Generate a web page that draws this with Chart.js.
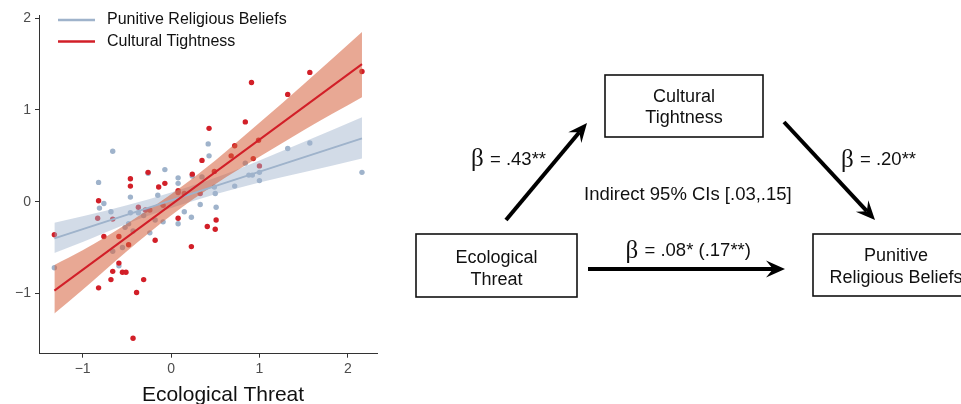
<!DOCTYPE html>
<html>
<head>
<meta charset="utf-8">
<script src="https://cdn.jsdelivr.net/npm/chart.js@4"></script>
<style>
  body { margin: 0; background: #fff; }
  #wrap { position: relative; width: 961px; height: 404px; }
</style>
</head>
<body>
<div id="wrap"><canvas id="fig"></canvas></div>
<script>
// points (Ecological Threat on x)
const tightX = [-1.32, -0.82, -0.83, -0.82, -0.76, -0.66, -0.66, -0.68, -0.59, -0.59, -0.55, -0.51, -0.48, -0.46, -0.46, -0.43, -0.39, -0.37, -0.31, -0.29, -0.24, -0.26, -0.18, -0.14, -0.09, -0.07, 0.08, 0.08, 0.08, 0.15, 0.23, 0.24, 0.33, 0.35, 0.41, 0.43, 0.49, 0.50, 0.51, 0.68, 0.72, 0.84, 0.91, 0.93, 0.99, 1.00, 1.32, 1.57, 2.16];
const tightY = [-0.36, 0.01, -0.18, -0.94, -0.38, -0.19, -0.76, -0.85, -0.38, -0.67, -0.77, -0.77, -0.47, 0.25, 0.17, -1.49, -0.99, -0.06, -0.85, -0.09, -0.09, 0.32, -0.42, 0.16, -0.04, 0.20, 0.12, 0.10, -0.18, 0.09, -0.49, 0.30, 0.09, 0.45, -0.27, 0.80, 0.33, -0.30, -0.20, 0.50, 0.61, 0.87, 1.30, 0.47, 0.67, 0.39, 1.17, 1.41, 1.42];
const punX = [-1.32, -0.82, -0.81, -0.76, -0.68, -0.66, -0.66, -0.59, -0.55, -0.52, -0.48, -0.46, -0.46, -0.43, -0.37, -0.31, -0.26, -0.24, -0.18, -0.15, -0.09, -0.07, 0.08, 0.08, 0.08, 0.15, 0.23, 0.24, 0.33, 0.35, 0.42, 0.43, 0.49, 0.51, 0.50, 0.72, 0.84, 0.88, 0.92, 1.00, 1.00, 1.32, 1.57, 2.16];
const punY = [-0.72, 0.21, -0.07, -0.02, -0.11, 0.55, -0.54, -0.70, -0.50, -0.28, -0.24, 0.05, -0.12, -0.32, -0.12, -0.15, 0.31, -0.34, -0.20, 0.07, -0.22, 0.35, 0.26, 0.20, -0.24, -0.11, -0.17, 0.28, -0.03, 0.27, 0.63, 0.50, 0.16, -0.06, 0.09, 0.17, 0.42, 0.29, 0.29, 0.32, 0.23, 0.58, 0.64, 0.32];

// fitted lines and 95% bands, read at a few x positions
const fitX = [-1.32, 2.16];
const tightFit = [-0.97, 1.50];
const punFit = [-0.40, 0.69];
const bandX = [-1.32, -1, -0.5, 0, 0.5, 1, 1.5, 2.16];
const tightLow = [-1.22, -0.96, -0.54, -0.15, 0.19, 0.49, 0.78, 1.14];
const tightHigh = [-0.69, -0.53, -0.24, 0.08, 0.45, 0.86, 1.28, 1.85];
const punLow = [-0.56, -0.44, -0.24, -0.07, 0.08, 0.21, 0.32, 0.47];
const punHigh = [-0.23, -0.16, -0.04, 0.10, 0.26, 0.45, 0.65, 0.92];

const xTicks = [-1, 0, 1, 2];
const yTicks = [-1, 0, 1, 2];

const RED = '#d21f28';
const BLUE = '#9fb3cb';

const pts = (xs, ys) => xs.map((x, i) => ({ x: x, y: ys[i] }));
const minus = v => (v < 0 ? '\u2212' + Math.abs(v) : String(v));

// legend, axis title and the mediation diagram on the right
const extras = {
    id: 'extras',
    afterDraw(chart) {
        const ctx = chart.ctx;
        ctx.save();

        // legend
        ctx.lineWidth = 2.5;
        ctx.strokeStyle = BLUE;
        ctx.beginPath(); ctx.moveTo(58, 20); ctx.lineTo(95, 20); ctx.stroke();
        ctx.strokeStyle = RED;
        ctx.beginPath(); ctx.moveTo(58, 41.5); ctx.lineTo(95, 41.5); ctx.stroke();
        ctx.fillStyle = '#111';
        ctx.font = '16px "Liberation Sans", Arial, sans-serif';
        ctx.textBaseline = 'middle';
        ctx.fillText('Punitive Religious Beliefs', 107, 20);
        ctx.fillText('Cultural Tightness', 107, 41.5);

        // x title
        ctx.font = '21px "Liberation Sans", Arial, sans-serif';
        ctx.textAlign = 'center';
        ctx.textBaseline = 'alphabetic';
        ctx.fillText('Ecological Threat', 223, 401);

        // boxes
        ctx.strokeStyle = '#111';
        ctx.lineWidth = 1.6;
        ctx.strokeRect(605, 75, 158, 62);
        ctx.strokeRect(416, 234, 161, 63);
        ctx.strokeRect(813, 234, 170, 62);

        ctx.font = '18px "Liberation Sans", Arial, sans-serif';
        ctx.fillText('Cultural', 684, 101.5);
        ctx.fillText('Tightness', 684, 123);
        ctx.fillText('Ecological', 496.5, 263);
        ctx.fillText('Threat', 496.5, 285);
        ctx.fillText('Punitive', 896, 261);
        ctx.fillText('Religious Beliefs', 896, 283);

        // arrows
        function arrow(x1, y1, x2, y2) {
            const a = Math.atan2(y2 - y1, x2 - x1);
            const c = Math.cos(a), s = Math.sin(a);
            const L = 19, W = 8.5, N = 12;
            ctx.lineWidth = 4;
            ctx.strokeStyle = '#000';
            ctx.beginPath();
            ctx.moveTo(x1, y1);
            ctx.lineTo(x2 - N * c, y2 - N * s);
            ctx.stroke();
            ctx.fillStyle = '#000';
            ctx.beginPath();
            ctx.moveTo(x2, y2);
            ctx.lineTo(x2 - L * c + W * s, y2 - L * s - W * c);
            ctx.lineTo(x2 - N * c, y2 - N * s);
            ctx.lineTo(x2 - L * c - W * s, y2 - L * s + W * c);
            ctx.closePath();
            ctx.fill();
        }
        arrow(506, 220, 587, 123);
        arrow(784, 122, 875, 220);
        arrow(588, 269, 785, 269);

        // path coefficients
        ctx.textAlign = 'left';
        ctx.fillStyle = '#111';
        function beta(x, y, rest) {
            ctx.font = '25px "Liberation Serif", "DejaVu Serif", serif';
            ctx.fillText('\u03B2', x, y);
            ctx.font = '18.5px "Liberation Sans", Arial, sans-serif';
            ctx.fillText(rest, x + 19, y - 1.5);
        }
        beta(471, 166, '= .43**');
        beta(841, 166.5, '= .20**');
        beta(625.5, 257.5, '= .08* (.17**)');

        ctx.font = '18.5px "Liberation Sans", Arial, sans-serif';
        ctx.fillText('Indirect 95% CIs [.03,.15]', 584, 200);

        ctx.restore();
    }
};

new Chart(document.getElementById('fig'), {
    type: 'scatter',
    data: {
        datasets: [
            {
                label: 'Punitive Religious Beliefs points',
                data: pts(punX, punY),
                backgroundColor: BLUE,
                borderWidth: 0,
                pointRadius: 2.7,
                order: 6
            },
            {
                label: 'Cultural Tightness points',
                data: pts(tightX, tightY),
                backgroundColor: RED,
                borderWidth: 0,
                pointRadius: 2.7,
                order: 5
            },
            {
                type: 'line',
                label: 'pun high',
                data: pts(bandX, punHigh),
                borderWidth: 0,
                pointRadius: 0,
                cubicInterpolationMode: 'monotone',
                backgroundColor: 'rgba(160,180,205,0.48)',
                fill: '+1',
                order: 4
            },
            {
                type: 'line',
                label: 'pun low',
                data: pts(bandX, punLow),
                borderWidth: 0,
                pointRadius: 0,
                cubicInterpolationMode: 'monotone',
                fill: false,
                order: 4
            },
            {
                type: 'line',
                label: 'tight high',
                data: pts(bandX, tightHigh),
                borderWidth: 0,
                pointRadius: 0,
                cubicInterpolationMode: 'monotone',
                backgroundColor: 'rgba(214,96,60,0.55)',
                fill: '+1',
                order: 3
            },
            {
                type: 'line',
                label: 'tight low',
                data: pts(bandX, tightLow),
                borderWidth: 0,
                pointRadius: 0,
                cubicInterpolationMode: 'monotone',
                fill: false,
                order: 3
            },
            {
                type: 'line',
                label: 'Punitive Religious Beliefs',
                data: pts(fitX, punFit),
                borderColor: BLUE,
                borderWidth: 2,
                pointRadius: 0,
                fill: false,
                order: 1
            },
            {
                type: 'line',
                label: 'Cultural Tightness',
                data: pts(fitX, tightFit),
                borderColor: RED,
                borderWidth: 2,
                pointRadius: 0,
                fill: false,
                order: 0
            }
        ]
    },
    options: {
        responsive: true,
        maintainAspectRatio: false,
        animation: false,
        layout: { padding: { left: 0, top: 15, right: 584, bottom: 0 } },
        plugins: {
            legend: { display: false },
            tooltip: { enabled: false }
        },
        scales: {
            x: {
                type: 'linear',
                min: -1.494,
                max: 2.33,
                afterBuildTicks: s => { s.ticks = xTicks.map(v => ({ value: v })); },
                afterFit: s => { s.height = 50.3; },
                border: { display: true, color: '#333', width: 1 },
                grid: { drawOnChartArea: false, drawTicks: true, tickLength: 4, color: '#333' },
                ticks: {
                    color: '#4d4d4d',
                    padding: 3,
                    maxRotation: 0,
                    font: { family: '"Liberation Sans", Arial, sans-serif', size: 14 },
                    callback: minus
                }
            },
            y: {
                type: 'linear',
                min: -1.658,
                max: 2.036,
                afterBuildTicks: s => { s.ticks = yTicks.map(v => ({ value: v })); },
                afterFit: s => { s.width = 39; },
                border: { display: true, color: '#333', width: 1 },
                grid: { drawOnChartArea: false, drawTicks: true, tickLength: 4, color: '#333' },
                ticks: {
                    color: '#4d4d4d',
                    padding: 4,
                    font: { family: '"Liberation Sans", Arial, sans-serif', size: 14 },
                    callback: minus
                }
            }
        }
    },
    plugins: [extras]
});
</script>
</body>
</html>
